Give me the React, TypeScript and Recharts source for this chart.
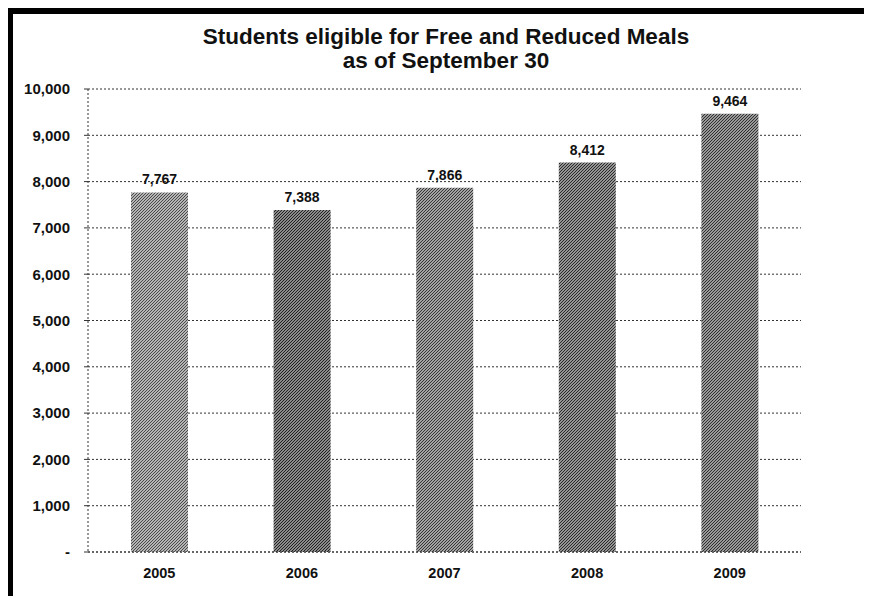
import React from "react";
import { BarChart, Bar, XAxis, YAxis, CartesianGrid, Cell, LabelList } from "recharts";

const years = ["2005", "2006", "2007", "2008", "2009"];
const eligible = [7767, 7388, 7866, 8412, 9464];
const yTicks = [0, 1000, 2000, 3000, 4000, 5000, 6000, 7000, 8000, 9000, 10000];
const barInk = ["#4a4a4a", "#222222", "#363636", "#2a2a2a", "#303030"];
const barBase = ["#b4b4b4", "#8a8a8a", "#a2a2a2", "#949494", "#989898"];

const data = years.map((y, i) => ({ year: y, value: eligible[i] }));

const FONT = "'Liberation Sans', Arial, sans-serif";
const fmt = (v: number) => (v === 0 ? "-" : v.toLocaleString("en-US"));

export default function App() {
  return (
    <div
      style={{
        position: "relative",
        width: 864,
        height: 588,
        boxSizing: "border-box",
        borderTop: "6px solid #000",
        borderLeft: "5px solid #000",
        background: "#fff",
        fontFamily: FONT,
      }}
    >
      <div
        style={{
          position: "absolute",
          left: 0,
          top: 11,
          width: 866,
          textAlign: "center",
          fontWeight: "bold",
          fontSize: 22.5,
          lineHeight: "24px",
          color: "#111",
        }}
      >
        Students eligible for Free and Reduced Meals
        <br />
        as of September 30
      </div>
      <BarChart
        width={859}
        height={582}
        data={data}
        margin={{ top: 75, right: 71, bottom: 14, left: 15 }}
        barCategoryGap={0}
        style={{ fontFamily: FONT }}
      >
        <defs>
          {barInk.map((ink, i) => (
            <pattern key={i} id={`hatch${i}`} patternUnits="userSpaceOnUse" width={3} height={3}>
              <rect width={3} height={3} fill={barBase[i]} />
              <path d="M0,3 L3,0 M-1,1 L1,-1 M2,4 L4,2" stroke={ink} strokeWidth={1} />
            </pattern>
          ))}
        </defs>
        <CartesianGrid vertical={false} stroke="#333" strokeDasharray="2 2" />
        <XAxis
          dataKey="year"
          axisLine={{ stroke: "#333", strokeDasharray: "2 2" }}
          tickLine={false}
          tickSize={5}
          tickMargin={11}
          height={30}
          tick={{ fontSize: 14.5, fontWeight: "bold", fill: "#111" }}
        />
        <YAxis
          domain={[0, 10000]}
          ticks={yTicks}
          interval={0}
          tickFormatter={fmt}
          width={60}
          axisLine={{ stroke: "#333", strokeDasharray: "2 2" }}
          tickLine={{ stroke: "#333" }}
          tickSize={4}
          tickMargin={14}
          tick={{ fontSize: 15, fontWeight: "bold", fill: "#111" }}
        />
        <Bar dataKey="value" barSize={57} isAnimationActive={false}>
          {data.map((d, i) => (
            <Cell key={d.year} fill={`url(#hatch${i})`} />
          ))}
          <LabelList
            dataKey="value"
            position="top"
            offset={8}
            formatter={(v: any) => Number(v).toLocaleString("en-US")}
            style={{ fontSize: 14, fontWeight: "bold", fill: "#111" }}
          />
        </Bar>
      </BarChart>
    </div>
  );
}
